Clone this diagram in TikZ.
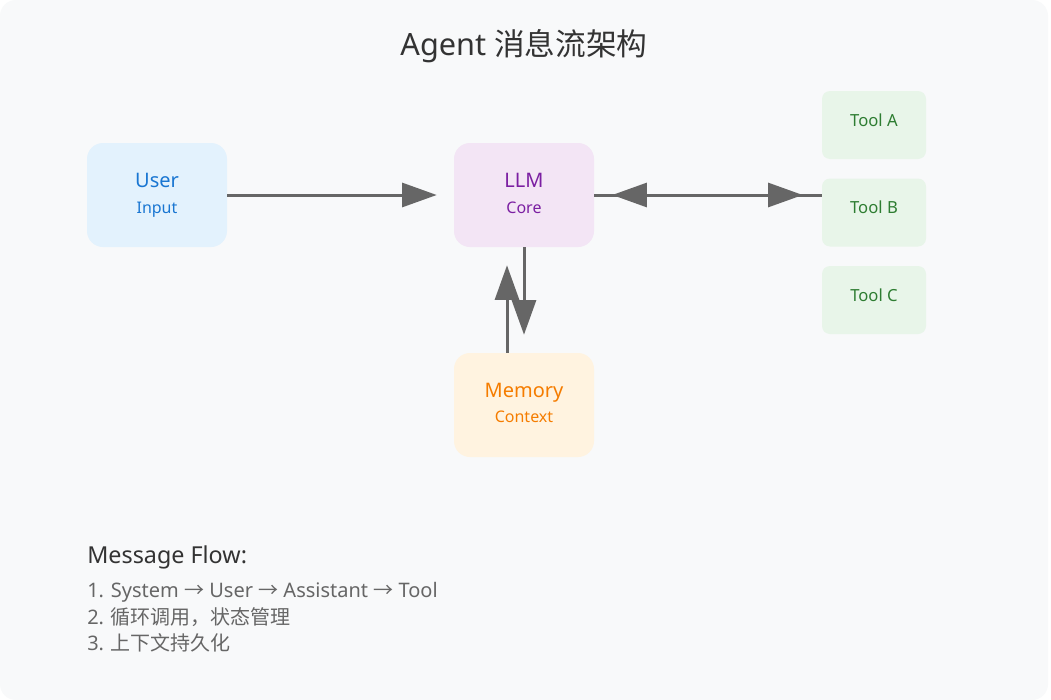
\documentclass[tikz,border=0pt]{standalone}
\usepackage{fontspec}
\usepackage{xcolor}
\setmainfont{Noto Sans}
\newfontfamily\cjk{Noto Sans CJK SC}
\usetikzlibrary{arrows.meta}

\definecolor{pagebg}{HTML}{F8F9FA}
\definecolor{userbg}{HTML}{E3F2FD}
\definecolor{userfg}{HTML}{1976D2}
\definecolor{llmbg}{HTML}{F3E5F5}
\definecolor{llmfg}{HTML}{7B1FA2}
\definecolor{membg}{HTML}{FFF3E0}
\definecolor{memfg}{HTML}{F57C00}
\definecolor{toolbg}{HTML}{E8F5E9}
\definecolor{toolfg}{HTML}{2E7D32}
\definecolor{linegray}{HTML}{666666}
\definecolor{darktext}{HTML}{333333}

\begin{document}
\begin{tikzpicture}[x=0.75pt,y=-0.75pt,
  box/.style={rounded corners=12pt, minimum width=105pt, minimum height=78pt, inner sep=0pt},
  toolbox/.style={rounded corners=6pt, minimum width=78pt, minimum height=51pt, inner sep=0pt, fill=toolbg},
  big/.style={anchor=base, inner sep=0pt, font=\fontsize{15}{18}\selectfont},
  small/.style={anchor=base, inner sep=0pt, font=\fontsize{12}{14}\selectfont},
  toollabel/.style={anchor=base, inner sep=0pt, text=toolfg, font=\fontsize{12.5}{15}\selectfont},
  listline/.style={anchor=base west, inner sep=0pt, text=linegray, font=\fontsize{15}{18}\selectfont},
  link/.style={draw=linegray, line width=2.25pt},
  tip/.style={-{Triangle[length=26pt,width=18pt]}}]
\useasboundingbox (0,0) rectangle (1051,700);
\fill[white] (0,0) rectangle (1051,700);
\fill[pagebg, rounded corners=12pt] (0,0) rectangle (1048,700);

% title
\node[anchor=base, inner sep=0pt, text=darktext, font=\fontsize{23}{27}\selectfont] (title) at (524,55) {Agent {\cjk 消息流架构}};

% main boxes
\node[box, fill=userbg] (user) at (157,195) {};
\node[big, text=userfg] (user-t) at (157,187) {User};
\node[small, text=userfg] (user-s) at (157,213) {Input};

\node[box, fill=llmbg] (llm) at (524,195) {};
\node[big, text=llmfg] (llm-t) at (524,187) {LLM};
\node[small, text=llmfg] (llm-s) at (524,213) {Core};

\node[box, fill=membg] (mem) at (524,405) {};
\node[big, text=memfg] (mem-t) at (524,397) {Memory};
\node[small, text=memfg] (mem-s) at (524,422) {Context};

% tools
\node[toolbox] (toola) at (874,125) {};
\node[toollabel] (toola-t) at (874,126) {Tool A};
\node[toolbox] (toolb) at (874,212.5) {};
\node[toollabel] (toolb-t) at (874,213) {Tool B};
\node[toolbox] (toolc) at (874,300) {};
\node[toollabel] (toolc-t) at (874,301) {Tool C};

% arrows
\draw[link, tip, shorten >=12.75pt] (user.east) -- (llm.west);
\draw[link] (llm.east) -- (toolb.west |- llm.east);
\draw[link, {Triangle[length=26pt,width=18pt]}-{Triangle[length=26pt,width=18pt]},
  shorten <=13.5pt, shorten >=14.25pt] (llm.east) -- (toolb.west |- llm.east);
\draw[link, tip, shorten >=13.5pt] (llm.south) -- (mem.north);
\draw[link, tip, shorten >=13.5pt] ([xshift=-12.75pt]mem.north) -- ([xshift=-12.75pt]llm.south);

% notes
\node[anchor=base west, inner sep=0pt, text=darktext, font=\fontsize{17.5}{21}\selectfont] (flow) at (87,563) {Message Flow:};
\node[listline] (step1) at (87,597) {1. System {\cjk →} User {\cjk →} Assistant {\cjk →} Tool};
\node[listline] (step2) at (87,624) {2. {\cjk 循环调用，状态管理}};
\node[listline] (step3) at (87,650) {3. {\cjk 上下文持久化}};
\end{tikzpicture}
\end{document}
